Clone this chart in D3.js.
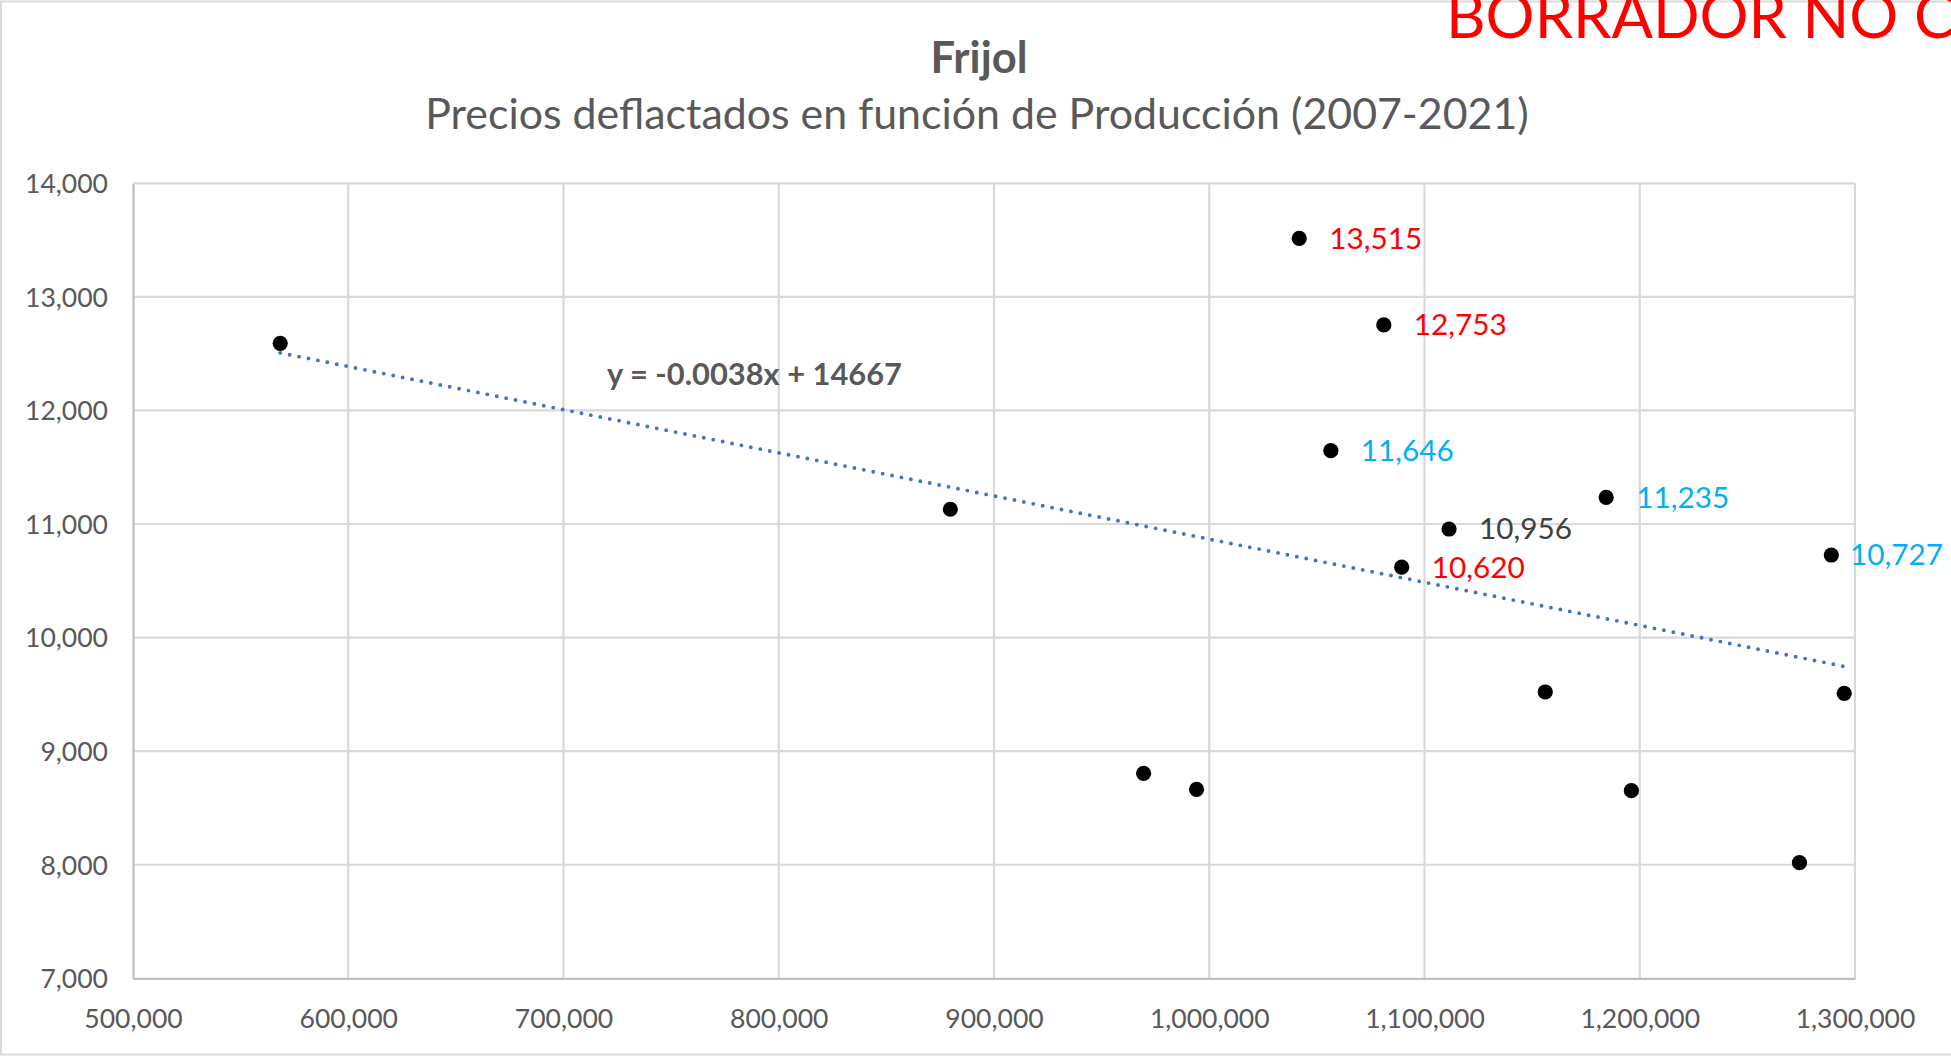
<!DOCTYPE html>
<html><head><meta charset="utf-8">
<script src="https://cdn.jsdelivr.net/npm/d3@7"></script>
<style>html,body{margin:0;padding:0;background:#fff;overflow:hidden}</style>
</head><body>
<svg id="chart" width="1951" height="1056"></svg>
<script>
// ---- Data ----
const produccion = [568400, 879700, 969500, 994100, 1041800, 1056500, 1081100, 1089400, 1111400, 1156100, 1184400, 1196100, 1274200, 1289000, 1295000];
const precio     = [12591, 11130, 8805, 8664, 13515, 11646, 12753, 10620, 10956, 9521, 11235, 8652, 8018, 10727, 9509];
const etiqueta   = ["", "", "", "", "rojo", "azul", "rojo", "rojo", "gris", "", "azul", "", "", "azul", ""];
const xTicks = [500000, 600000, 700000, 800000, 900000, 1000000, 1100000, 1200000, 1300000];
const yTicks = [7000, 8000, 9000, 10000, 11000, 12000, 13000, 14000];
const pendiente = -0.0038;
const intercepto = 14667;
const titulo = "Frijol";
const subtitulo = "Precios deflactados en función de Producción (2007-2021)";
const marcaAgua = "BORRADOR NO CITAR";

// ---- Layout ----
const W = 1951, H = 1056;
const plot = {left: 133, right: 1855, top: 183.3, bottom: 978.3};
const FONT = "Lato, 'Open Sans', 'Noto Sans', sans-serif";
const colores = {rojo: "#FF0000", azul: "#00B0F0", gris: "#404040"};
const fmt = d3.format(",");

const svg = d3.select("#chart");
const x = d3.scaleLinear().domain([xTicks[0], xTicks[xTicks.length-1]]).range([plot.left, plot.right]);
const y = d3.scaleLinear().domain([yTicks[0], yTicks[yTicks.length-1]]).range([plot.bottom, plot.top]);

function sizeFor(sample, target, weight) {
  const t = svg.append("text").attr("font-family", FONT).attr("font-size", 100)
    .attr("font-weight", weight || "normal").text(sample);
  const w = t.node().getComputedTextLength();
  t.remove();
  return 100 * target / w;
}

// outer chart border
svg.append("rect").attr("x", 1).attr("y", 1.5).attr("width", W + 10).attr("height", H - 3)
  .attr("fill", "#fff").attr("stroke", "#d9d9d9").attr("stroke-width", 2);

// watermark (cut by the page edge, as in the original capture)
const wmSize = sizeFor("BORRADOR", 341);
svg.append("text").attr("x", 1446).attr("y", 38).attr("font-family", FONT)
  .attr("font-size", wmSize).attr("fill", "#FF0000").text(marcaAgua);

// titles
svg.append("text").attr("x", 979).attr("y", 73).attr("text-anchor", "middle")
  .attr("font-family", FONT).attr("font-weight", "bold").attr("fill", "#595959")
  .attr("font-size", sizeFor(titulo, 97, "bold")).text(titulo);
svg.append("text").attr("x", 977).attr("y", 129).attr("text-anchor", "middle")
  .attr("font-family", FONT).attr("fill", "#595959")
  .attr("font-size", sizeFor(subtitulo, 1104)).text(subtitulo);

// gridlines
const grid = svg.append("g");
grid.selectAll("line.v").data(xTicks.slice(1)).join("line")
  .attr("x1", d => x(d)).attr("x2", d => x(d)).attr("y1", plot.top).attr("y2", plot.bottom)
  .attr("stroke", "#d9d9d9").attr("stroke-width", 2.2);
grid.selectAll("line.h").data(yTicks.slice(1)).join("line")
  .attr("x1", plot.left).attr("x2", plot.right).attr("y1", d => y(d)).attr("y2", d => y(d))
  .attr("stroke", "#d9d9d9").attr("stroke-width", 2.2);

// axes
const tickSize = sizeFor("14,000", 83);
const xAxis = svg.append("g").attr("transform", `translate(0,${plot.bottom})`)
  .call(d3.axisBottom(x).tickValues(xTicks).tickFormat(fmt).tickSize(0));
xAxis.select(".domain").attr("stroke", "#bfbfbf").attr("stroke-width", 2.2);
xAxis.selectAll("text").attr("y", 40).attr("dy", "0.35em")
  .attr("font-family", FONT).attr("font-size", tickSize).attr("fill", "#595959");

const yAxis = svg.append("g").attr("transform", `translate(${plot.left},0)`)
  .call(d3.axisLeft(y).tickValues(yTicks).tickFormat(fmt).tickSize(0));
yAxis.select(".domain").attr("stroke", "#bfbfbf").attr("stroke-width", 2.2);
yAxis.selectAll("text").attr("x", -25).attr("dy", "0.35em")
  .attr("font-family", FONT).attr("font-size", tickSize).attr("fill", "#595959");

// trendline
const xMin = d3.min(produccion), xMax = d3.max(produccion);
svg.append("line")
  .attr("x1", x(xMin)).attr("y1", y(pendiente * xMin + intercepto))
  .attr("x2", x(xMax)).attr("y2", y(pendiente * xMax + intercepto))
  .attr("stroke", "#4472C4").attr("stroke-width", 3.9)
  .attr("stroke-linecap", "round").attr("stroke-dasharray", "0 9.6");

const ecuacion = `y = ${pendiente}x + ${intercepto}`;
svg.append("text").attr("x", 607).attr("y", 385)
  .attr("font-family", FONT).attr("font-weight", "bold").attr("fill", "#595959")
  .attr("font-size", sizeFor(ecuacion, 295, "bold")).text(ecuacion);

// points
const datos = produccion.map((p, i) => ({x: p, y: precio[i], e: etiqueta[i]}));
svg.append("g").selectAll("circle").data(datos).join("circle")
  .attr("cx", d => x(d.x)).attr("cy", d => y(d.y)).attr("r", 7.6).attr("fill", "#000");

// data labels
const lblSize = sizeFor("13,515", 93);
svg.append("g").selectAll("text").data(datos.filter(d => d.e)).join("text")
  .attr("font-family", FONT).attr("font-size", lblSize)
  .attr("fill", d => colores[d.e]).attr("dy", "0.35em")
  .attr("y", d => y(d.y))
  .text(d => fmt(d.y))
  .attr("x", function(d) {
    const w = this.getComputedTextLength();
    let lx = x(d.x) + 30;
    if (lx + w > W - 8) lx = W - 8 - w;
    return lx;
  });
</script>
</body></html>
